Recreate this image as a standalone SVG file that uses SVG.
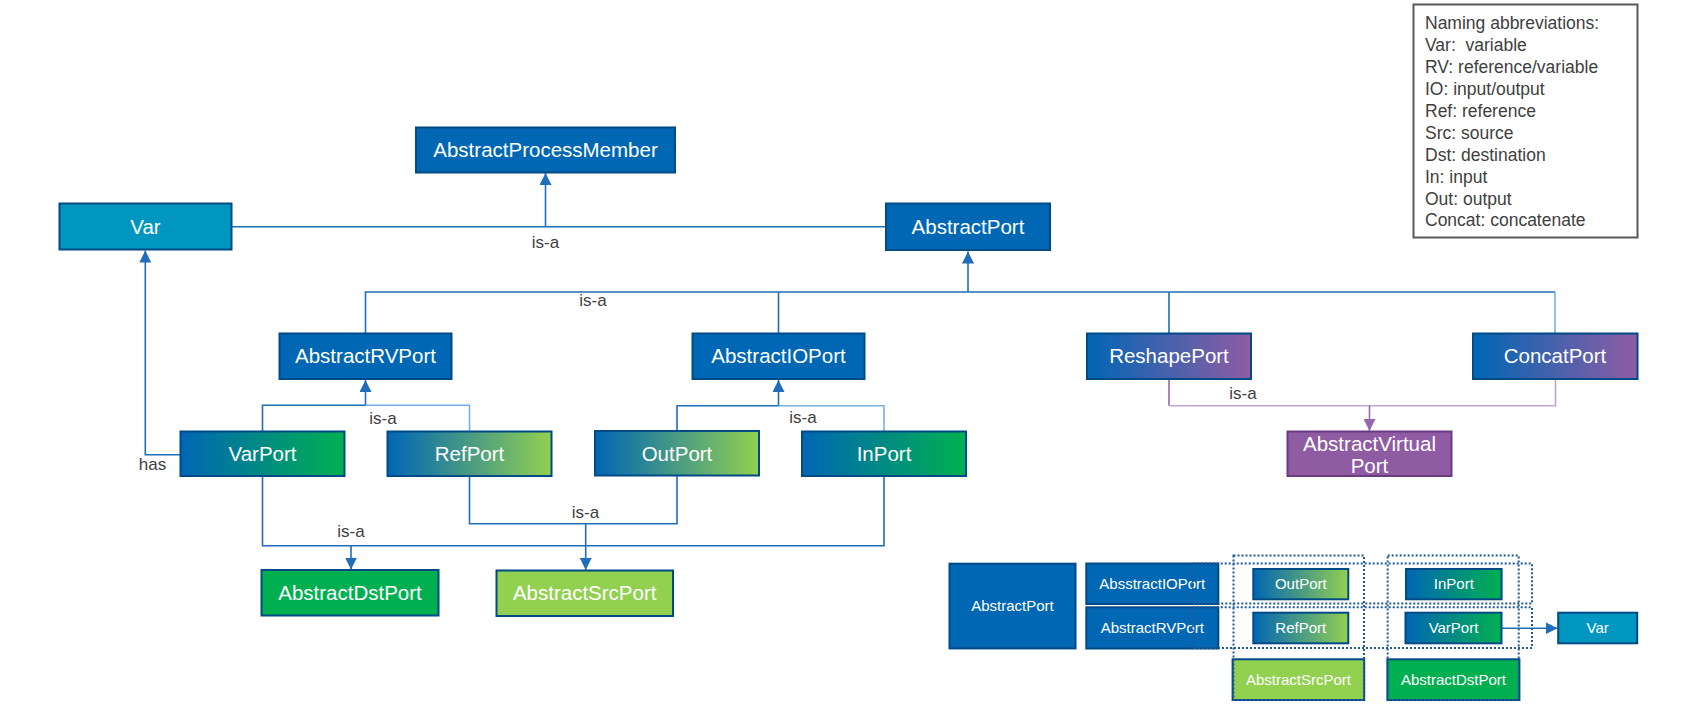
<svg xmlns="http://www.w3.org/2000/svg" width="1708" height="707" viewBox="0 0 1708 707">
<style>
.n{stroke:#004A86;stroke-width:2}
.blue{fill:#0067B4}
.var{fill:#0096C0}
.t{font-family:"Liberation Sans",Arial,sans-serif;font-size:20.5px;fill:#FFFFFF;text-anchor:middle}
.ts{font-family:"Liberation Sans",Arial,sans-serif;font-size:15px;fill:#FFFFFF;text-anchor:middle}
.lbl{font-family:"Liberation Sans",Arial,sans-serif;font-size:17px;fill:#404040;text-anchor:middle}
.leg{font-family:"Liberation Sans",Arial,sans-serif;font-size:17.5px;fill:#404040}
.c{fill:none;stroke:#1F6DBB;stroke-width:1.6}
.cl{fill:none;stroke:#7AB0E0;stroke-width:1.6}
.cp{fill:none;stroke:#C3A3D3;stroke-width:1.6}
.cpd{fill:none;stroke:#9668AE;stroke-width:1.6}
.dot{fill:none;stroke:#1F5A96;stroke-width:2;stroke-dasharray:2 2}
</style>
<defs>
<linearGradient id="gBG" x1="0" y1="0" x2="1" y2="0"><stop offset="0" stop-color="#0066B4"/><stop offset="1" stop-color="#00B050"/></linearGradient>
<linearGradient id="gBL" x1="0" y1="0" x2="1" y2="0"><stop offset="0" stop-color="#0066B4"/><stop offset="1" stop-color="#92D050"/></linearGradient>
<linearGradient id="gBP" x1="0" y1="0" x2="1" y2="0"><stop offset="0" stop-color="#0066B4"/><stop offset="1" stop-color="#8F5CA4"/></linearGradient>
<marker id="ab" markerUnits="userSpaceOnUse" markerWidth="12" markerHeight="12" viewBox="0 0 10 10" refX="10" refY="5" orient="auto"><path d="M0,0 L10,5 L0,10 Z" fill="#1F6DBB"/></marker>
<marker id="ap" markerUnits="userSpaceOnUse" markerWidth="12" markerHeight="12" viewBox="0 0 10 10" refX="10" refY="5" orient="auto"><path d="M0,0 L10,5 L0,10 Z" fill="#9668AE"/></marker>
</defs>
<rect width="1708" height="707" fill="#FFFFFF"/>

<g id="connectors">
<path class="c" d="M231.5,226.7 H886"/>
<path class="c" d="M545.5,226.7 V173" marker-end="url(#ab)"/>
<text class="lbl" x="545.5" y="247.5">is-a</text>

<path class="c" d="M365.5,333.5 V292 H1555"/>
<path class="cl" d="M1555,292 V333.5"/>
<path class="c" d="M778.5,292 V333.5 M1169,292 V333.5"/>
<path class="c" d="M968,292 V251.5" marker-end="url(#ab)"/>
<text class="lbl" x="593" y="306">is-a</text>

<path class="c" d="M262.5,431.5 V405.3 H365.5"/>
<path class="cl" d="M365.5,405.3 H469.5 V431.5"/>
<path class="c" d="M365.5,405.3 V380" marker-end="url(#ab)"/>
<text class="lbl" x="383" y="423.5">is-a</text>

<path class="c" d="M677,431 V405.7 H778.5"/>
<path class="cl" d="M778.5,405.7 H884 V431.5"/>
<path class="c" d="M778.5,405.7 V380" marker-end="url(#ab)"/>
<text class="lbl" x="803" y="422.5">is-a</text>

<path class="c" d="M180.5,454.7 H145.3 V250.5" marker-end="url(#ab)"/>
<text class="lbl" x="152.5" y="470">has</text>

<path class="cpd" d="M1169,379 V405.7"/>
<path class="cp" d="M1169,405.7 H1555.5 V379"/>
<path class="cpd" d="M1369.5,405.7 V431" marker-end="url(#ap)"/>
<text class="lbl" x="1243" y="399.3">is-a</text>

<path class="c" d="M262.5,476 V545.7 H884 V476"/>
<path class="c" d="M351,545.7 V569.5" marker-end="url(#ab)"/>
<text class="lbl" x="351" y="537">is-a</text>

<path class="c" d="M469.5,476 V523.7 H677 V476"/>
<path class="c" d="M585.7,523.7 V570" marker-end="url(#ab)"/>
<text class="lbl" x="585.5" y="517.7">is-a</text>

<path class="c" d="M1501.6,628.3 H1557.5" marker-end="url(#ab)"/>
</g>

<g id="n-apm"><rect class="n blue" x="416" y="127.5" width="259" height="45"/><text class="t" x="545.5" y="157.3">AbstractProcessMember</text></g>
<g id="n-var"><rect class="n var" x="59.5" y="203.5" width="172" height="46"/><text class="t" x="145.5" y="233.8">Var</text></g>
<g id="n-abstractport"><rect class="n blue" x="886" y="203.5" width="164" height="46.5"/><text class="t" x="968" y="234">AbstractPort</text></g>
<g id="n-rvport"><rect class="n blue" x="279.5" y="333.5" width="172" height="45.5"/><text class="t" x="365.5" y="363.3">AbstractRVPort</text></g>
<g id="n-ioport"><rect class="n blue" x="692.5" y="333.5" width="172" height="45.5"/><text class="t" x="778.5" y="363.3">AbstractIOPort</text></g>
<g id="n-reshape"><rect class="n" fill="url(#gBP)" x="1087" y="333.5" width="164" height="45.5"/><text class="t" x="1169" y="363.3">ReshapePort</text></g>
<g id="n-concat"><rect class="n" fill="url(#gBP)" x="1473" y="333.5" width="164.5" height="45.5"/><text class="t" x="1555" y="363.3">ConcatPort</text></g>
<g id="n-varport"><rect class="n" fill="url(#gBG)" x="180.5" y="431.5" width="164" height="44.5"/><text class="t" x="262.5" y="461">VarPort</text></g>
<g id="n-refport"><rect class="n" fill="url(#gBL)" x="387.5" y="431.5" width="164" height="44.5"/><text class="t" x="469.5" y="461">RefPort</text></g>
<g id="n-outport"><rect class="n" fill="url(#gBL)" x="595" y="431" width="164" height="44.5"/><text class="t" x="677" y="460.5">OutPort</text></g>
<g id="n-inport"><rect class="n" fill="url(#gBG)" x="802" y="431.5" width="164" height="44.5"/><text class="t" x="884" y="461">InPort</text></g>
<g id="n-virtual"><rect x="1287.5" y="431.5" width="164" height="44.5" fill="#8F5CA4" stroke="#6A3C80" stroke-width="2"/><text class="t" x="1369.5" y="451">AbstractVirtual</text><text class="t" x="1369.5" y="473">Port</text></g>
<g id="n-dst"><rect class="n" fill="#00B050" x="261.5" y="570" width="177" height="45.5"/><text class="t" x="350" y="599.8">AbstractDstPort</text></g>
<g id="n-src"><rect class="n" fill="#92D050" x="496.5" y="570.5" width="176.5" height="45.5"/><text class="t" x="584.7" y="600.3">AbstractSrcPort</text></g>

<g id="legend"><rect x="1413.5" y="4.5" width="224" height="233" fill="#FFFFFF" stroke="#595959" stroke-width="2"/>
<text class="leg" x="1425" y="29">Naming abbreviations:</text>
<text class="leg" x="1425" y="51">Var:&#160; variable</text>
<text class="leg" x="1425" y="72.9">RV: reference/variable</text>
<text class="leg" x="1425" y="94.8">IO: input/output</text>
<text class="leg" x="1425" y="116.8">Ref: reference</text>
<text class="leg" x="1425" y="138.7">Src: source</text>
<text class="leg" x="1425" y="160.6">Dst: destination</text>
<text class="leg" x="1425" y="182.6">In: input</text>
<text class="leg" x="1425" y="204.5">Out: output</text>
<text class="leg" x="1425" y="226.4">Concat: concatenate</text>
</g>

<g id="s-abstractport"><rect class="n blue" x="949.5" y="563.7" width="126" height="84.7"/><text class="ts" x="1012.5" y="611.3">AbstractPort</text></g>
<g id="s-ioport"><rect class="n blue" x="1086.3" y="563.5" width="132" height="40.5"/><text class="ts" x="1152.3" y="589">AbsstractIOPort</text></g>
<g id="s-rvport"><rect class="n blue" x="1086.3" y="607.3" width="132" height="41.2"/><text class="ts" x="1152.3" y="633.2">AbstractRVPort</text></g>
<g id="s-outport"><rect class="n" fill="url(#gBL)" x="1253.3" y="569" width="95" height="30.3"/><text class="ts" x="1300.8" y="589.4">OutPort</text></g>
<g id="s-inport"><rect class="n" fill="url(#gBG)" x="1406" y="569" width="95.6" height="30.3"/><text class="ts" x="1453.8" y="589.4">InPort</text></g>
<g id="s-refport"><rect class="n" fill="url(#gBL)" x="1253.3" y="612.7" width="95" height="30.6"/><text class="ts" x="1300.8" y="633.2">RefPort</text></g>
<g id="s-varport"><rect class="n" fill="url(#gBG)" x="1405.5" y="612.7" width="96" height="30.6"/><text class="ts" x="1453.5" y="633.2">VarPort</text></g>
<g id="s-var"><rect class="n var" x="1558.2" y="612.7" width="79" height="30.6"/><text class="ts" x="1597.7" y="633.2">Var</text></g>
<g id="s-src"><rect class="n" fill="#92D050" x="1232.6" y="659.3" width="131.6" height="40.7"/><text class="ts" x="1298.4" y="684.9">AbstractSrcPort</text></g>
<g id="s-dst"><rect class="n" fill="#00B050" x="1387.4" y="659.3" width="132" height="40.7"/><text class="ts" x="1453.4" y="684.9">AbstractDstPort</text></g>

<g id="groups">
<rect class="dot" x="1192.7" y="563.5" width="339.3" height="40"/>
<rect class="dot" x="1192.7" y="607.3" width="339.3" height="40.7"/>
<rect class="dot" x="1233.5" y="555.5" width="130.5" height="144.5"/>
<rect class="dot" x="1387.7" y="555.5" width="131" height="144.5"/>
</g>
</svg>
